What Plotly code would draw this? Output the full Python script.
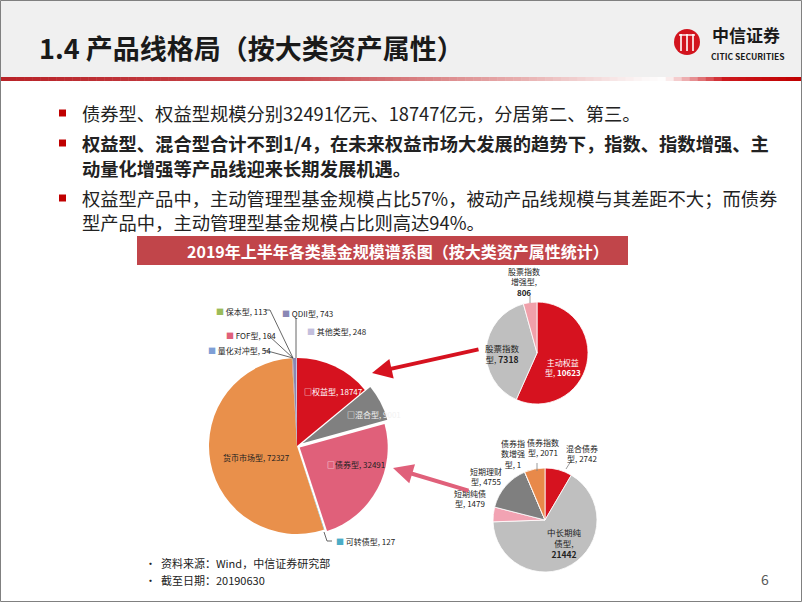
import plotly.graph_objects as go

W, H = 802, 602
FONT = "Noto Sans CJK SC"


def fx(x):
    return x / W


def fy(y):
    return 1 - y / H


# ---------------- data ----------------
main_labels = ["权益型", "混合型", "债券型", "可转债型", "货币市场型",
               "量化对冲型", "FOF型", "保本型", "QDII型", "其他类型"]
main_values = [18747, 9001, 32491, 127, 72327, 54, 104, 113, 743, 248]

eq_labels = ["主动权益型", "股票指数型", "股票指数增强型"]
eq_values = [10623, 7318, 806]

bond_labels = ["混合债券型", "中长期纯债型", "短期纯债型", "短期理财型", "债券指数增强型", "债券指数型"]
bond_values = [2742, 21442, 1479, 4755, 1, 2071]

# ---------------- styles ----------------
main_colors = ["#D6121F", "#808080", "#E0607A", "#4BACC6", "#E9904B",
               "#7F9FD6", "#E0607A", "#9BBB59", "#8A87B5", "#C3BFDD"]
main_pull = [0, 0.07, 0.035, 0, 0, 0, 0, 0, 0, 0]
eq_colors = ["#D6121F", "#BFBFBF", "#F0A0AA"]
bond_colors = ["#D6121F", "#BFBFBF", "#F2A3B3", "#7F7F7F", "#F2A3B3", "#E8894A"]

fig = go.Figure()


def dom(cx, cy, half):
    return dict(x=[fx(cx - half), fx(cx + half)], y=[fy(cy + half), fy(cy - half)])


fig.add_trace(go.Pie(labels=main_labels, values=main_values, sort=False,
                     direction="clockwise", rotation=0, pull=main_pull,
                     marker=dict(colors=main_colors, line=dict(width=0)),
                     textinfo="none", hoverinfo="skip", showlegend=False,
                     domain=dom(297, 446, 88 * (1 + max(main_pull)))))
fig.add_trace(go.Pie(labels=eq_labels, values=eq_values, sort=False,
                     direction="clockwise", rotation=0,
                     marker=dict(colors=eq_colors, line=dict(width=0.8, color="white")),
                     textinfo="none", hoverinfo="skip", showlegend=False,
                     domain=dom(537, 353, 51)))
fig.add_trace(go.Pie(labels=bond_labels, values=bond_values, sort=False,
                     direction="clockwise", rotation=0,
                     marker=dict(colors=bond_colors, line=dict(width=0.8, color="white")),
                     textinfo="none", hoverinfo="skip", showlegend=False,
                     domain=dom(545, 520, 52)))

shapes = []
ann = []


def rect(x0, y0, x1, y1, color, line=None, layer="below"):
    d = dict(type="rect", xref="paper", yref="paper", x0=fx(x0), x1=fx(x1),
             y0=fy(y1), y1=fy(y0), fillcolor=color, layer=layer,
             line=dict(width=0) if line is None else line)
    shapes.append(d)


def seg(x0, y0, x1, y1, color="#404040", width=0.8):
    shapes.append(dict(type="line", xref="paper", yref="paper", x0=fx(x0), y0=fy(y0),
                       x1=fx(x1), y1=fy(y1), line=dict(color=color, width=width), layer="above"))


def text(x, y, s, size, color="#222222", xanchor="left", bold=False, align="left"):
    if bold:
        s = "<b>" + s + "</b>"
    ann.append(dict(xref="paper", yref="paper", x=fx(x), y=fy(y), text=s, showarrow=False,
                    xanchor=xanchor, yanchor="middle", align=align,
                    font=dict(family=FONT, size=size, color=color)))


# header background
rect(0, 0, W, 77, "#F0F0F0")
# gradient red rule
stops = [(0, (185, 35, 40)), (300, (200, 75, 80)), (520, (232, 175, 175)),
         (640, (252, 246, 246)), (665, (255, 255, 255)), (725, (205, 25, 30)), (802, (192, 0, 0))]


def interp(x):
    for (a, ca), (b, cb) in zip(stops[:-1], stops[1:]):
        if a <= x <= b:
            t = (x - a) / (b - a)
            return tuple(int(ca[i] + (cb[i] - ca[i]) * t) for i in range(3))
    return stops[-1][1]


N = 100
for i in range(N):
    x0 = W * i / N
    x1 = W * (i + 1) / N + 0.5
    c = interp((x0 + x1) / 2)
    rect(x0, 77, x1, 81, "rgb(%d,%d,%d)" % c)

# slide border
shapes.append(dict(type="rect", xref="paper", yref="paper", x0=fx(0.5), x1=fx(801.5),
                   y0=fy(601.5), y1=fy(0.5), line=dict(color="#808080", width=1),
                   fillcolor="rgba(0,0,0,0)", layer="above"))

# title
text(37, 47, "1.4 产品线格局（按大类资产属性）", 27, "#1A1A1A", bold=True)

# logo
shapes.append(dict(type="circle", xref="paper", yref="paper", x0=fx(674), x1=fx(700),
                   y0=fy(55), y1=fy(29), fillcolor="#D2141E", line=dict(width=0), layer="above"))
for lx in (681, 687, 693):
    seg(lx, 34, lx, 51, "white", 1.6)
seg(679, 35, 695, 35, "white", 1.4)
text(746, 35, "中信证券", 17, "#1A1A1A", xanchor="center", bold=True)
text(748, 56.5, "CITIC SECURITIES", 8.5, "#1A1A1A", xanchor="center", bold=True)

# bullets
for by in (113, 143, 198):
    rect(59, by - 3.5, 66, by + 3.5, "#C00000", layer="above")
BS = 18.3
text(80, 113, "债券型、权益型规模分别32491亿元、18747亿元，分居第二、第三。", BS)
text(80, 143, "权益型、混合型合计不到1/4，在未来权益市场大发展的趋势下，指数、指数增强、主", BS, bold=True)
text(80, 168, "动量化增强等产品线迎来长期发展机遇。", BS, bold=True)
text(80, 198, "权益型产品中，主动管理型基金规模占比57%，被动产品线规模与其差距不大；而债券", BS)
text(80, 222, "型产品中，主动管理型基金规模占比则高达94%。", BS)

# chart title band
rect(137, 236, 628, 265, "#C1454A")
text(398, 250.5, "2019年上半年各类基金规模谱系图（按大类资产属性统计）", 16, "white",
     xanchor="center", bold=True)


def tag(color, s, txtcolor="#222222"):
    return '<span style="color:%s">■</span> <span style="color:%s">%s</span>' % (color, txtcolor, s)


# main pie labels
text(302, 391, '<span style="color:white">□</span>%s, %d' % (main_labels[0], main_values[0]), 8, "white")
text(345, 414, '<span style="color:white">□</span>%s, %d' % (main_labels[1], main_values[1]), 8, "#F2F2F2")
text(325, 464, '<span style="color:white">□</span>%s, %d' % (main_labels[2], main_values[2]), 8, "#222222")
text(221, 457, "%s, %d" % (main_labels[4], main_values[4]), 8, "#222222")
text(334, 541, tag(main_colors[3], "%s, %d" % (main_labels[3], main_values[3])), 8)
text(214, 311, tag(main_colors[7], "%s, %d" % (main_labels[7], main_values[7])), 8)
text(280, 313, tag(main_colors[8], "%s, %d" % (main_labels[8], main_values[8])), 8)
text(305, 331, tag(main_colors[9], "%s, %d" % (main_labels[9], main_values[9])), 8)
text(224, 335, tag(main_colors[6], "%s, %d" % (main_labels[6], main_values[6])), 8)
text(206, 350, tag(main_colors[5], "%s, %d" % (main_labels[5], main_values[5])), 8)

# leader lines main pie
seg(265, 310, 270, 310)
seg(270, 310, 293, 358)
seg(296, 318, 296, 358)
seg(268, 335, 293, 358)
seg(264, 350, 293, 358)
seg(324, 532, 327, 541)
seg(327, 541, 332, 541)

# equity breakdown labels
text(524, 282, "股票指数<br>增强型,<br><b>%d</b>" % eq_values[2], 8, "#222222", xanchor="center", align="center")
seg(530, 296, 530, 303, "#808080")
text(503, 353, "股票指数<br>型, <b>%d</b>" % eq_values[1], 8.5, "#222222", xanchor="center", align="center")
text(563, 367, "主动权益<br>型, <b>%d</b>" % eq_values[0], 8, "white", xanchor="center", align="center")

# bond breakdown labels
text(513, 454, "债券指<br>数增强<br>型, %d" % bond_values[4], 8, "#222222", xanchor="center", align="center")
seg(537, 463, 537, 471, "#808080")
text(543, 447, "债券指数<br>型, %d" % bond_values[5], 8, "#222222", xanchor="center", align="center")
text(582, 453, "混合债券<br>型, %d" % bond_values[0], 8, "#222222", xanchor="center", align="center")
seg(571, 461, 566, 469, "#808080")
text(486, 476, "短期理财<br>型, %d" % bond_values[3], 8, "#222222", xanchor="center", align="center")
text(470, 498, "短期纯债<br>型, %d" % bond_values[2], 8, "#222222", xanchor="center", align="center")
text(564, 543, "中长期纯<br>债型,<br><b>%d</b>" % bond_values[1], 8.5, "#222222", xanchor="center", align="center")

# arrows (offsets in pixels from head to tail)
ann.append(dict(xref="paper", yref="paper", x=fx(372), y=fy(373), ax=108, ay=-24,
                axref="pixel", ayref="pixel", showarrow=True, arrowhead=2, arrowsize=1,
                arrowwidth=4, arrowcolor="#D6121F", text=""))
ann.append(dict(xref="paper", yref="paper", x=fx(393), y=fy(468), ax=77, ay=23,
                axref="pixel", ayref="pixel", showarrow=True, arrowhead=2, arrowsize=1,
                arrowwidth=4, arrowcolor="#E0607A", text=""))

# footer
text(143, 563, "•  资料来源：Wind，中信证券研究部", 11, "#222222")
text(143, 580, "•  截至日期：20190630", 11, "#222222")
text(765, 579, "6", 14, "#595959", xanchor="center")

fig.update_layout(width=W, height=H, margin=dict(l=0, r=0, t=0, b=0),
                  paper_bgcolor="white", plot_bgcolor="white",
                  shapes=shapes, annotations=ann)
fig.write_html("out.html")
